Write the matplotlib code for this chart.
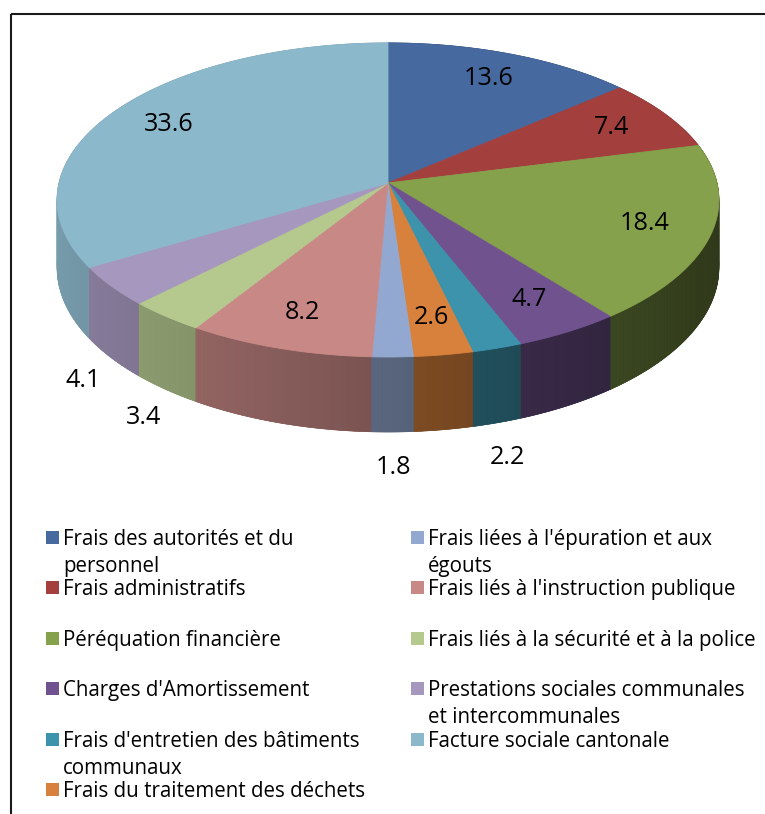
import numpy as np
import matplotlib
matplotlib.use("Agg")
import matplotlib.pyplot as plt
from matplotlib.patches import Polygon, Rectangle
from matplotlib.collections import PolyCollection
import matplotlib.colors as mcolors

plt.rcParams['font.family'] = ['Open Sans', 'DejaVu Sans']

# ---------------- data ----------------
categories = [
    "Frais des autorités et du personnel",
    "Frais administratifs",
    "Péréquation financière",
    "Charges d'Amortissement",
    "Frais d'entretien des bâtiments communaux",
    "Frais du traitement des déchets",
    "Frais liées à l'épuration et aux égouts",
    "Frais liés à l'instruction publique",
    "Frais liés à la sécurité et à la police",
    "Prestations sociales communales et intercommunales",
    "Facture sociale cantonale",
]
legend_labels = [
    "Frais des autorités et du\npersonnel",
    "Frais administratifs",
    "Péréquation financière",
    "Charges d'Amortissement",
    "Frais d'entretien des bâtiments\ncommunaux",
    "Frais du traitement des déchets",
    "Frais liées à l'épuration et aux\négouts",
    "Frais liés à l'instruction publique",
    "Frais liés à la sécurité et à la police",
    "Prestations sociales communales\net intercommunales",
    "Facture sociale cantonale",
]
values = [13.6, 7.4, 18.4, 4.7, 2.2, 2.6, 1.8, 8.2, 3.4, 4.1, 33.6]
label_texts = ["13.6", "7.4", "18.4", "4.7", "2.2", "2.6", "1.8", "8.2", "3.4", "4.1", "33.6"]

# ---------------- style ----------------
colors = ["#46699f", "#a3403e", "#86a14b", "#70538e", "#3d93ab", "#d7813c",
          "#93a8d0", "#c88986", "#b5c98f", "#a597bd", "#8cb8cb"]
label_outside = [False, False, False, False, True, False, True, False, True, True, False]

W, H = 765, 814
fig = plt.figure(figsize=(W / 100, H / 100), dpi=100)
ax = fig.add_axes([0, 0, 1, 1])
ax.set_xlim(0, W)
ax.set_ylim(H, 0)
ax.axis('off')

# perspective pie geometry (pixel space)
CX, CY, A, B, K, DEPTH = 388.0, 183.0, 329.0, 155.2, 0.108, 66.9


def proj(r, theta_deg, z=0.0):
    t = np.radians(theta_deg)
    u = r * np.sin(t)
    v = -r * np.cos(t)
    w = 1.0 / (1.0 - K * v)
    return CX + A * u * w, CY + (B * v + z) * w


def shade(theta_deg):
    return 0.6 - 0.25 * np.sin(np.radians(theta_deg))


vals = np.asarray(values, dtype=float)
cum = np.concatenate([[0], np.cumsum(vals)]) / vals.sum() * 360.0

# ---- side walls: solid underlay per slice, then shaded strips ----
walls = []
for i in range(len(vals)):
    t0, t1 = cum[i], cum[i + 1]
    ts = np.linspace(t0, t1, max(4, int((t1 - t0) * 2)))
    xt, yt = proj(1, ts)
    xb, yb = proj(1, ts[::-1], DEPTH)
    pts = list(zip(xt, yt)) + list(zip(xb, yb))
    tm = 0.5 * (t0 + t1)
    walls.append((-np.cos(np.radians(tm)), pts,
                  np.clip(np.array(mcolors.to_rgb(colors[i])) * shade(tm), 0, 1)))
for _, pts, c in sorted(walls, key=lambda w: w[0]):
    ax.add_patch(Polygon(pts, closed=True, facecolor=c, edgecolor=c, linewidth=0.5))

strips, strip_cols, strip_depth = [], [], []
for i in range(len(vals)):
    t0, t1 = cum[i], cum[i + 1]
    n = max(2, int(np.ceil((t1 - t0) / 0.5)))
    ts = np.linspace(t0, t1, n + 1)
    base = np.array(mcolors.to_rgb(colors[i]))
    for j in range(n):
        a0, a1 = ts[j], ts[j + 1]
        tm = 0.5 * (a0 + a1)
        if np.cos(np.radians(tm)) > 0.25:
            continue
        x0t, y0t = proj(1, a0)
        x1t, y1t = proj(1, a1)
        x0b, y0b = proj(1, a0, DEPTH)
        x1b, y1b = proj(1, a1, DEPTH)
        c = np.clip(base * shade(tm), 0, 1)
        strips.append([(x0t, y0t), (x1t, y1t), (x1b, y1b), (x0b, y0b)])
        strip_cols.append(c)
        strip_depth.append(-np.cos(np.radians(tm)))
order = np.argsort(strip_depth)
pc = PolyCollection([strips[k] for k in order],
                    facecolors=[strip_cols[k] for k in order],
                    edgecolors=[strip_cols[k] for k in order], linewidths=0.3)
ax.add_collection(pc)

# ---- top faces ----
for i in range(len(vals)):
    t0, t1 = cum[i], cum[i + 1]
    ts = np.linspace(t0, t1, max(3, int((t1 - t0) * 2)))
    xs, ys = proj(1, ts)
    pts = [(CX, CY)] + list(zip(xs, ys))
    ax.add_patch(Polygon(pts, closed=True, facecolor=colors[i],
                         edgecolor=colors[i], linewidth=0.6))

# ---- data labels ----
for i in range(len(vals)):
    tm = 0.5 * (cum[i] + cum[i + 1])
    if label_outside[i]:
        xb, yb = proj(1, tm, DEPTH)
        t = np.radians(tm)
        d = np.array([np.sin(t), -np.cos(t)])
        d = d / np.linalg.norm(d)
        x, y = xb + 36 * d[0], yb + 36 * d[1]
    else:
        x, y = proj(0.8, tm)
    ax.text(x, y, label_texts[i], ha='center', va='center', fontsize=18.2, color='black')

# ---- legend (two columns, column-major) ----
rows_per_col = 6
for i, lab in enumerate(legend_labels):
    col, row = divmod(i, rows_per_col)
    sx = 46 if col == 0 else 411
    tx = 63 if col == 0 else 428
    base_y = 545 + 50.4 * row
    ax.add_patch(Rectangle((sx, base_y - 14), 13, 13, facecolor=colors[i], edgecolor='none'))
    for li, line in enumerate(lab.split("\n")):
        ax.text(tx, base_y + 27 * li, line, ha='left', va='baseline', fontsize=14.8, color='black')

# ---- frame ----
ax.plot([11.5, W], [14, 14], color='#1a1a1a', lw=1.5, solid_capstyle='butt')
ax.plot([11.5, 11.5], [14, H], color='#1a1a1a', lw=1.5, solid_capstyle='butt')

fig.savefig("out.png", dpi=100, facecolor='white')
